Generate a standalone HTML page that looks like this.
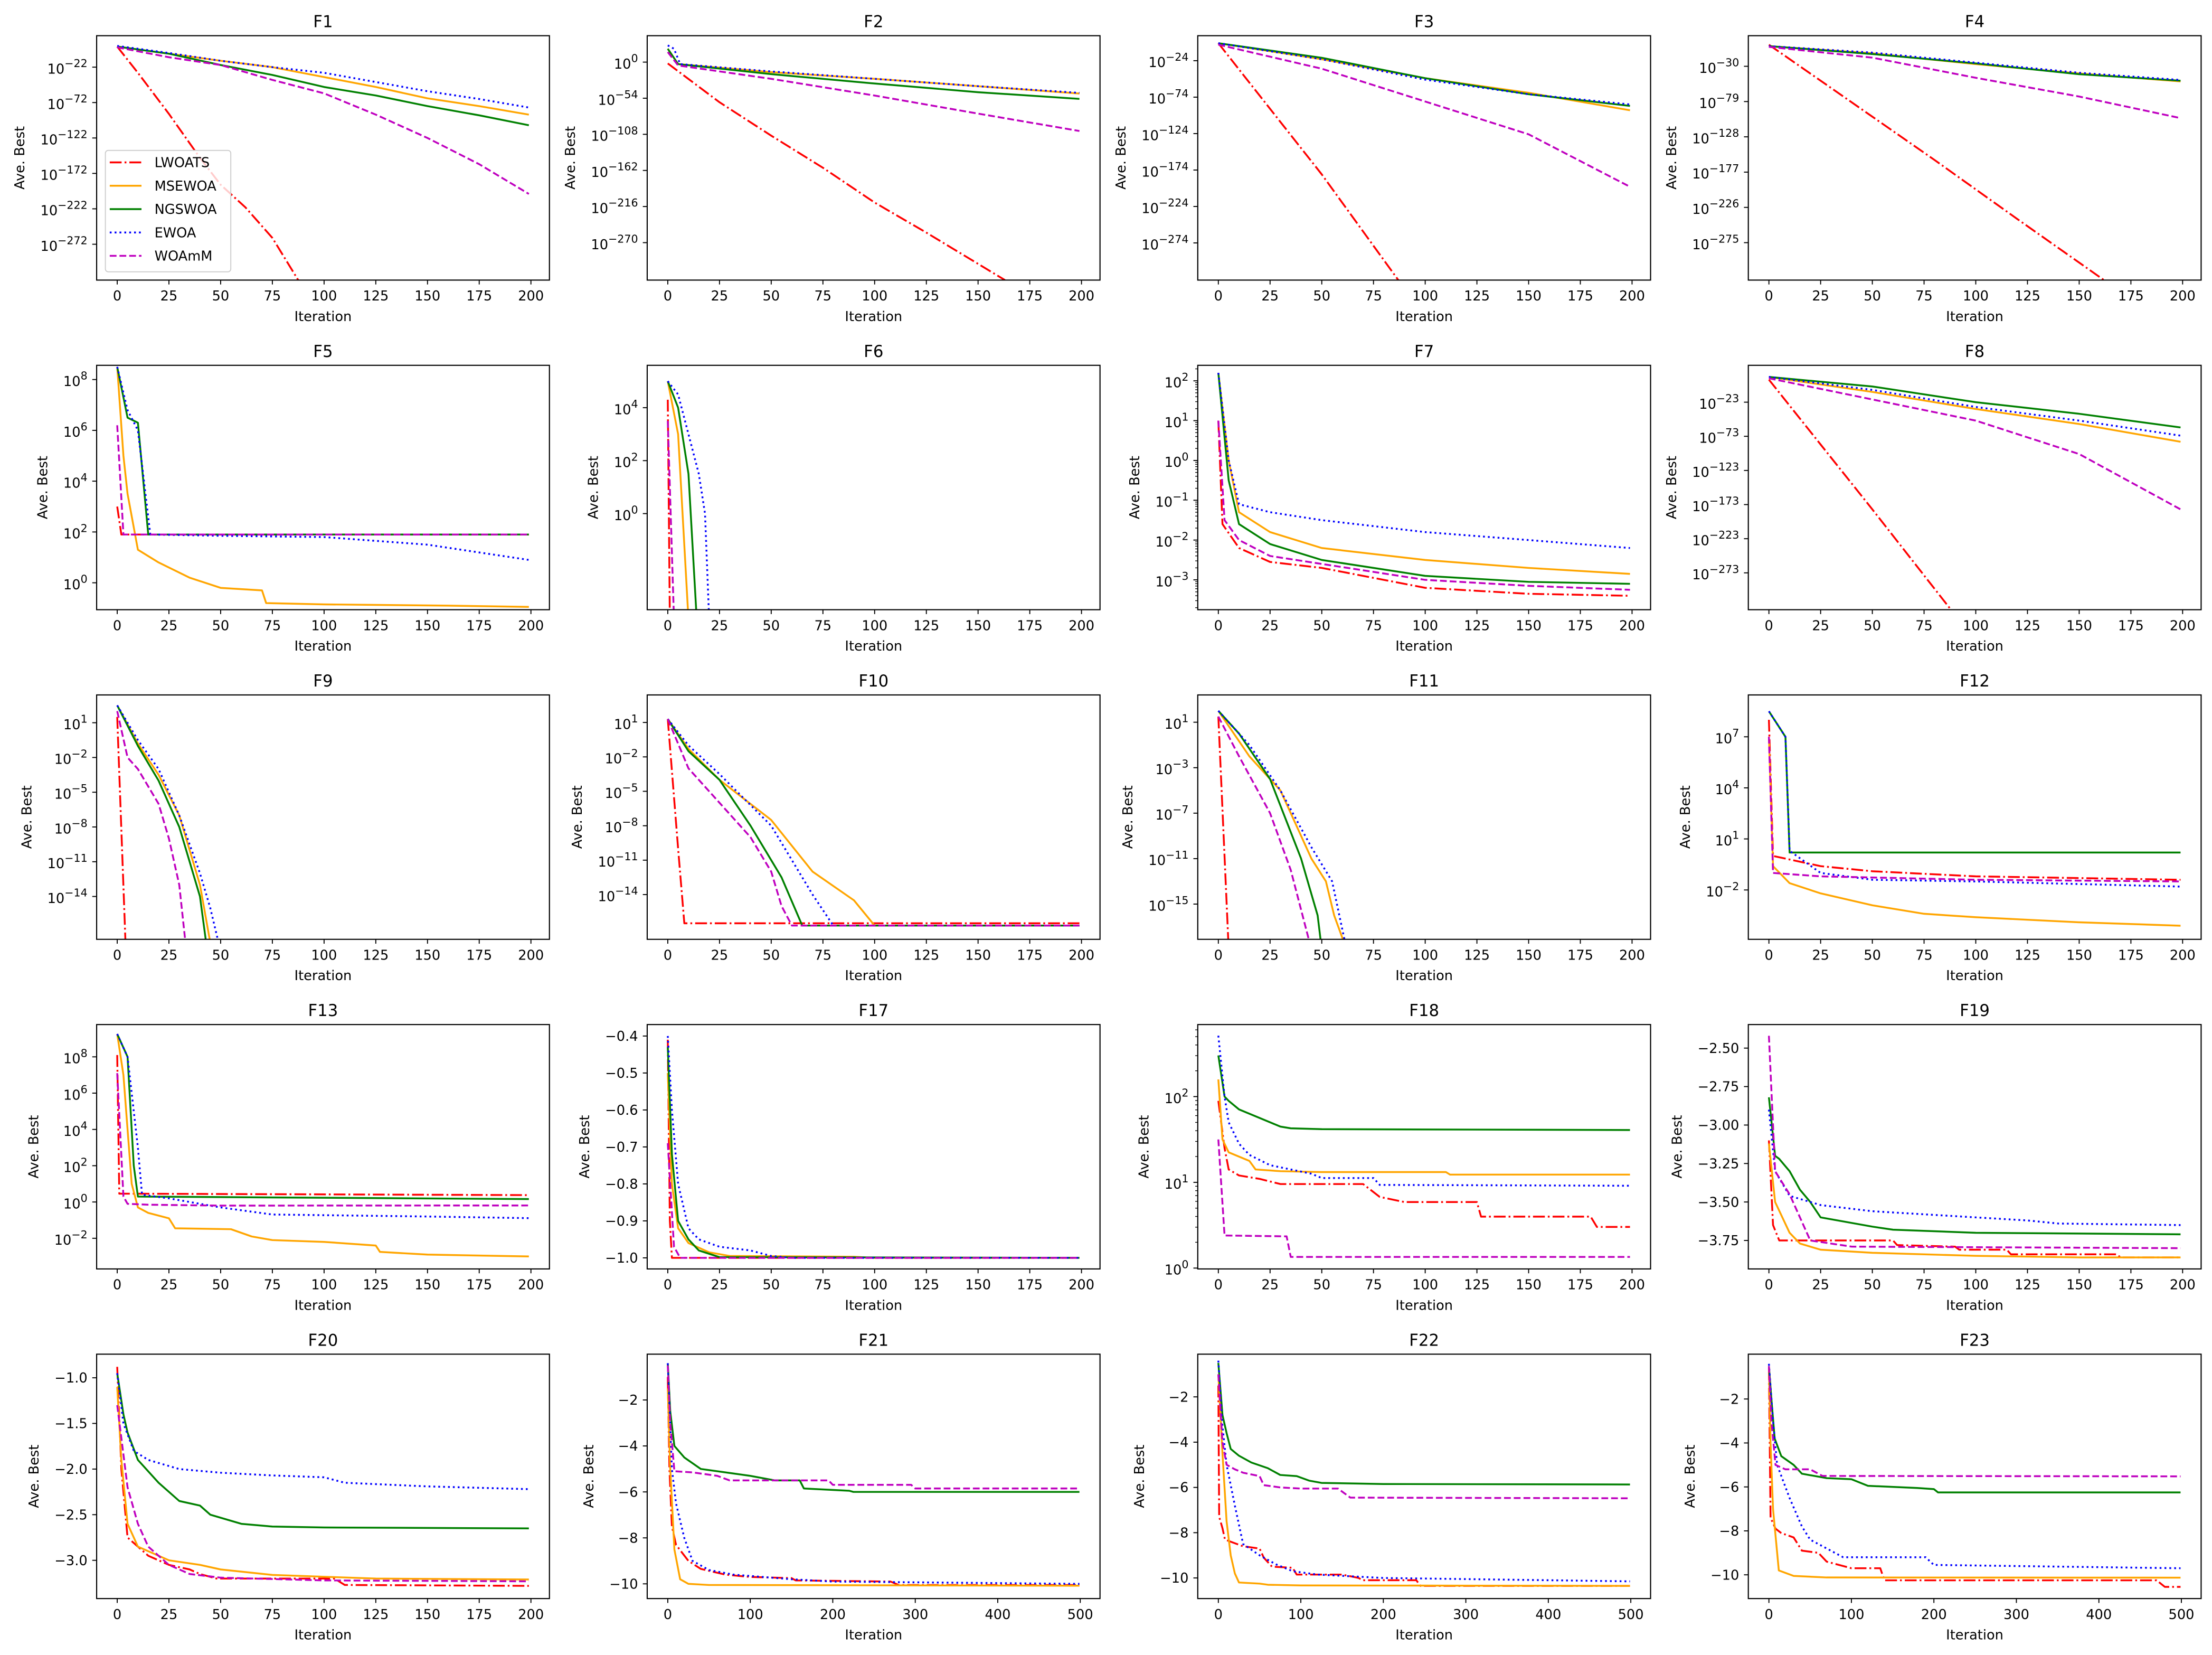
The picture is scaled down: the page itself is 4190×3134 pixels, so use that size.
<!DOCTYPE html>
<html><head><meta charset="utf-8"><title>Convergence curves</title>
<style>html,body{margin:0;padding:0;background:#fff}svg{display:block}</style></head>
<body>
<svg id="fig" xmlns="http://www.w3.org/2000/svg" width="4190" height="3134" viewBox="0 0 1568.1 1172.9" font-family="'DejaVu Sans','Liberation Sans',sans-serif">
<rect x="0" y="0" width="1568.1" height="1172.9" fill="#fff"/>
</svg>
<script>
// ---- data: [iteration, value] (log plots store log10 of Ave. Best) ----
const METHODS = ['LWOATS','MSEWOA','NGSWOA','EWOA','WOAmM'];
const F1_LWOATS=[[0,7],[10,-30],[25,-88],[40,-150],[50,-188],[62,-220],[75,-263],[88,-325]];
const F1_MSEWOA=[[0,7],[25,-3],[50,-13],[75,-22],[100,-36],[125,-50],[150,-66],[175,-77],[199,-89]];
const F1_NGSWOA=[[0,7],[25,-3],[50,-19],[75,-33],[100,-50],[125,-62],[150,-77],[175,-90],[199,-104]];
const F1_EWOA=[[0,8],[25,-2],[50,-13],[75,-22],[100,-30],[125,-43],[150,-56],[175,-67],[199,-79]];
const F1_WOAmM=[[0,6],[25,-8],[50,-19],[75,-40],[100,-59],[125,-89],[150,-122],[175,-159],[199,-201]];
const F2_LWOATS=[[0,-2],[25,-60],[50,-110],[75,-158],[100,-210],[125,-255],[163,-326]];
const F2_MSEWOA=[[0,20],[5,-3],[50,-15],[100,-25],[150,-36],[199,-47]];
const F2_NGSWOA=[[0,20],[5,-3],[50,-18],[100,-32],[150,-45],[199,-55]];
const F2_EWOA=[[0,25],[3,20],[6,-3],[50,-14],[100,-25],[150,-36],[199,-46]];
const F2_WOAmM=[[0,15],[5,-5],[50,-25],[100,-50],[150,-77],[199,-103]];
const F3_LWOATS=[[0,0],[25,-90],[50,-180],[87,-325]];
const F3_MSEWOA=[[0,0],[50,-22],[100,-48],[150,-68],[199,-92]];
const F3_NGSWOA=[[0,0],[50,-20],[100,-48],[150,-70],[199,-86]];
const F3_EWOA=[[0,0],[50,-22],[100,-50],[150,-70],[199,-84]];
const F3_WOAmM=[[0,-2],[50,-35],[100,-80],[150,-125],[199,-197]];
const F4_LWOATS=[[0,0],[40,-80],[80,-160],[120,-242],[162,-327]];
const F4_MSEWOA=[[0,-2],[50,-12],[100,-27],[150,-40],[199,-51]];
const F4_NGSWOA=[[0,-2],[50,-13],[100,-26],[150,-41],[199,-50]];
const F4_EWOA=[[0,-2],[50,-11],[100,-25],[150,-39],[199,-49]];
const F4_WOAmM=[[0,-3],[50,-18],[100,-46],[150,-72],[199,-102]];
const F5_LWOATS=[[0,3],[2,1.9],[199,1.9]];
const F5_MSEWOA=[[0,8.5],[3,5],[5,3.5],[10,1.3],[20,0.8],[35,0.2],[50,-0.2],[70,-0.3],[72,-0.8],[100,-0.85],[160,-0.9],[199,-0.95]];
const F5_NGSWOA=[[0,8.5],[5,6.5],[10,6.3],[15,1.9],[199,1.9]];
const F5_EWOA=[[0,8.5],[5,6.8],[10,6],[16,1.9],[50,1.85],[100,1.8],[150,1.5],[199,0.9]];
const F5_WOAmM=[[0,6.2],[3,1.9],[199,1.9]];
const F6_LWOATS=[[0,4.3],[1,-4]];
const F6_MSEWOA=[[0,5],[5,3],[10,-4]];
const F6_NGSWOA=[[0,5],[5,4],[10,1.5],[14,-4]];
const F6_EWOA=[[0,5],[5,4.5],[10,3],[15,1.5],[18,0],[20,-4]];
const F6_WOAmM=[[0,3.5],[3,-4]];
const F7_LWOATS=[[0,1],[2,-1.6],[10,-2.2],[25,-2.55],[50,-2.7],[100,-3.2],[150,-3.35],[199,-3.4]];
const F7_MSEWOA=[[0,2.2],[5,0],[10,-1.3],[25,-1.8],[50,-2.2],[100,-2.5],[150,-2.7],[199,-2.85]];
const F7_NGSWOA=[[0,2.2],[5,-0.5],[10,-1.6],[25,-2.1],[50,-2.5],[100,-2.9],[150,-3.05],[199,-3.1]];
const F7_EWOA=[[0,2.2],[5,0],[10,-1.1],[25,-1.3],[50,-1.5],[100,-1.8],[150,-2.0],[199,-2.2]];
const F7_WOAmM=[[0,1],[3,-1.5],[10,-2],[25,-2.4],[50,-2.6],[100,-3.0],[150,-3.15],[199,-3.25]];
const F8_LWOATS=[[0,10],[25,-85],[50,-180],[88,-327]];
const F8_MSEWOA=[[0,14],[50,-8],[100,-33],[150,-55],[199,-81]];
const F8_NGSWOA=[[0,14],[50,0],[100,-23],[150,-40],[199,-60]];
const F8_EWOA=[[0,14],[50,-5],[100,-30],[150,-50],[199,-72]];
const F8_WOAmM=[[0,12],[50,-19],[100,-50],[150,-99],[199,-180]];
const F9_LWOATS=[[0,1.5],[4,-18]];
const F9_MSEWOA=[[0,2.5],[10,-0.8],[20,-3.5],[30,-7],[35,-10],[40,-13],[45,-18]];
const F9_NGSWOA=[[0,2.5],[10,-1],[20,-4],[30,-8],[35,-11],[40,-14],[43,-18]];
const F9_EWOA=[[0,2.5],[10,-0.5],[20,-3],[30,-7],[40,-12],[45,-15],[49,-18]];
const F9_WOAmM=[[0,2],[5,-2],[10,-3],[20,-6],[25,-9],[30,-13],[33,-18]];
const F10_LWOATS=[[0,1.3],[5,-10],[8,-16.5],[199,-16.5]];
const F10_MSEWOA=[[0,1.3],[10,-1.3],[25,-4],[50,-7.5],[70,-12],[90,-14.5],[100,-16.7],[199,-16.7]];
const F10_NGSWOA=[[0,1.3],[10,-1.5],[25,-4],[40,-8],[50,-11],[55,-12.5],[65,-16.7],[199,-16.7]];
const F10_EWOA=[[0,1.3],[10,-1],[25,-3.5],[50,-8],[60,-11],[70,-14],[80,-16.7],[199,-16.7]];
const F10_WOAmM=[[0,1.3],[10,-3],[25,-6],[40,-9],[50,-12],[55,-15],[60,-16.7],[199,-16.7]];
const F11_LWOATS=[[0,1.5],[5,-19]];
const F11_MSEWOA=[[0,2],[15,-2],[30,-5],[45,-11],[52,-13],[56,-16],[62,-19]];
const F11_NGSWOA=[[0,2],[10,0],[25,-4],[40,-11],[48,-16],[50,-19]];
const F11_EWOA=[[0,2],[15,-1],[30,-5],[45,-10],[55,-13],[62,-19]];
const F11_WOAmM=[[0,1.5],[10,-2],[25,-7],[35,-12],[45,-19]];
const F12_LWOATS=[[0,8],[2,0],[25,-0.6],[50,-0.9],[100,-1.2],[199,-1.4]];
const F12_MSEWOA=[[0,7],[2,-0.6],[10,-1.6],[25,-2.2],[50,-2.9],[75,-3.4],[100,-3.6],[150,-3.9],[199,-4.1]];
const F12_NGSWOA=[[0,8.5],[8,7],[10,0.2],[199,0.2]];
const F12_EWOA=[[0,8.5],[8,7],[10,0.3],[25,-1],[50,-1.4],[100,-1.5],[199,-1.8]];
const F12_WOAmM=[[0,7],[2,-1],[25,-1.2],[100,-1.4],[199,-1.5]];
const F13_LWOATS=[[0,8.1],[1,0.46],[199,0.38]];
const F13_MSEWOA=[[0,9.26],[3,7],[7,1],[10,-0.3],[15,-0.6],[25,-0.9],[28,-1.45],[55,-1.5],[65,-1.9],[75,-2.1],[100,-2.2],[125,-2.4],[127,-2.75],[150,-2.9],[199,-3.0]];
const F13_NGSWOA=[[0,9.26],[5,8],[8,2],[10,0.3],[199,0.16]];
const F13_EWOA=[[0,9.26],[5,8],[10,3],[12,0.4],[25,0.2],[40,-0.1],[50,-0.3],[75,-0.69],[150,-0.8],[199,-0.89]];
const F13_WOAmM=[[0,7.1],[3,0.3],[5,-0.1],[15,-0.15],[50,-0.2],[199,-0.19]];
const F17_LWOATS=[[0,-0.41],[1,-0.9],[2,-1.0],[199,-1.0]];
const F17_MSEWOA=[[0,-0.5],[2,-0.8],[5,-0.92],[10,-0.96],[20,-0.985],[30,-0.995],[90,-0.997],[100,-1.0],[199,-1.0]];
const F17_NGSWOA=[[0,-0.43],[2,-0.72],[5,-0.9],[10,-0.95],[15,-0.98],[25,-0.998],[199,-1.0]];
const F17_EWOA=[[0,-0.40],[2,-0.6],[5,-0.8],[10,-0.92],[15,-0.95],[25,-0.97],[40,-0.98],[50,-0.995],[60,-1.0],[199,-1.0]];
const F17_WOAmM=[[0,-0.69],[3,-0.97],[6,-1.0],[199,-1.0]];
const F18_LWOATS=[[0,1.95],[3,1.4],[5,1.15],[10,1.08],[20,1.04],[30,0.98],[70,0.98],[78,0.83],[90,0.77],[125,0.77],[127,0.6],[180,0.6],[183,0.48],[199,0.48]];
const F18_MSEWOA=[[0,2.2],[2,1.5],[5,1.35],[15,1.25],[18,1.15],[30,1.13],[50,1.12],[110,1.12],[112,1.09],[199,1.09]];
const F18_NGSWOA=[[0,2.48],[3,2.0],[5,1.95],[10,1.85],[20,1.75],[25,1.7],[30,1.65],[35,1.63],[50,1.62],[199,1.61]];
const F18_EWOA=[[0,2.71],[3,2.0],[5,1.7],[10,1.45],[15,1.32],[25,1.2],[35,1.15],[45,1.1],[50,1.05],[75,1.05],[78,0.97],[199,0.96]];
const F18_WOAmM=[[0,1.5],[3,0.38],[33,0.37],[35,0.13],[199,0.13]];
const F19_LWOATS=[[0,-3.1],[2,-3.65],[5,-3.75],[60,-3.75],[62,-3.78],[90,-3.79],[92,-3.81],[115,-3.81],[117,-3.84],[168,-3.84],[170,-3.86],[199,-3.86]];
const F19_MSEWOA=[[0,-3.12],[3,-3.5],[10,-3.7],[15,-3.77],[25,-3.81],[50,-3.83],[100,-3.85],[150,-3.86],[199,-3.86]];
const F19_NGSWOA=[[0,-2.82],[3,-3.2],[5,-3.22],[10,-3.3],[15,-3.42],[20,-3.5],[25,-3.6],[50,-3.66],[60,-3.68],[100,-3.7],[199,-3.71]];
const F19_EWOA=[[0,-2.9],[3,-3.3],[10,-3.46],[25,-3.52],[50,-3.56],[75,-3.58],[100,-3.6],[125,-3.62],[140,-3.64],[199,-3.65]];
const F19_WOAmM=[[0,-2.42],[3,-3.3],[10,-3.45],[15,-3.6],[20,-3.75],[40,-3.79],[199,-3.8]];
const F20_LWOATS=[[0,-0.88],[2,-2.0],[5,-2.75],[10,-2.85],[15,-2.95],[25,-3.05],[35,-3.1],[40,-3.15],[48,-3.2],[105,-3.2],[110,-3.27],[199,-3.28]];
const F20_MSEWOA=[[0,-1.1],[2,-1.9],[5,-2.6],[10,-2.85],[20,-2.95],[25,-3.0],[40,-3.05],[50,-3.1],[75,-3.16],[100,-3.18],[125,-3.2],[199,-3.21]];
const F20_NGSWOA=[[0,-0.95],[3,-1.4],[5,-1.6],[10,-1.9],[20,-2.15],[30,-2.35],[40,-2.4],[45,-2.5],[60,-2.6],[75,-2.63],[100,-2.64],[199,-2.65]];
const F20_EWOA=[[0,-0.95],[3,-1.5],[8,-1.8],[15,-1.9],[30,-2.0],[50,-2.04],[75,-2.07],[100,-2.09],[110,-2.15],[150,-2.19],[199,-2.22]];
const F20_WOAmM=[[0,-1.3],[5,-2.2],[10,-2.6],[15,-2.85],[25,-3.05],[35,-3.15],[50,-3.19],[100,-3.22],[199,-3.23]];
const F21_LWOATS=[[0,-1],[2,-5],[5,-7.5],[10,-8.3],[25,-9.0],[40,-9.35],[70,-9.6],[100,-9.7],[150,-9.75],[155,-9.85],[270,-9.9],[280,-10.05],[499,-10.05]];
const F21_MSEWOA=[[0,-1.5],[3,-5],[8,-8.5],[15,-9.8],[25,-10.0],[50,-10.05],[499,-10.08]];
const F21_NGSWOA=[[0,-0.4],[3,-2.5],[8,-4.0],[20,-4.5],[40,-5.0],[80,-5.2],[100,-5.3],[130,-5.5],[160,-5.5],[165,-5.85],[220,-5.95],[225,-6.0],[499,-6.0]];
const F21_EWOA=[[0,-0.4],[5,-5],[10,-6.5],[20,-8],[30,-9.0],[50,-9.4],[80,-9.6],[150,-9.8],[200,-9.9],[499,-10.0]];
const F21_WOAmM=[[0,-0.5],[3,-3],[8,-5.1],[30,-5.15],[60,-5.3],[75,-5.5],[195,-5.5],[200,-5.69],[295,-5.69],[300,-5.85],[499,-5.85]];
const F22_LWOATS=[[0,-1.5],[1,-7.3],[5,-7.8],[8,-8.3],[15,-8.4],[30,-8.6],[50,-8.7],[55,-9.1],[65,-9.5],[90,-9.55],[95,-9.85],[150,-9.85],[170,-10.0],[175,-10.1],[240,-10.1],[245,-10.35],[499,-10.35]];
const F22_MSEWOA=[[0,-1],[5,-4.5],[10,-7.5],[15,-9.0],[20,-9.8],[25,-10.2],[50,-10.25],[60,-10.3],[100,-10.33],[499,-10.35]];
const F22_NGSWOA=[[0,-0.5],[5,-2.8],[10,-3.6],[15,-4.3],[25,-4.6],[40,-4.9],[60,-5.15],[75,-5.45],[95,-5.5],[110,-5.7],[125,-5.8],[200,-5.85],[499,-5.87]];
const F22_EWOA=[[0,-0.4],[5,-3.3],[10,-5.0],[20,-6.8],[30,-8.5],[50,-9.0],[70,-9.4],[90,-9.7],[120,-9.85],[200,-10.0],[300,-10.05],[499,-10.15]];
const F22_WOAmM=[[0,-1.0],[5,-4.0],[10,-5.0],[20,-5.2],[30,-5.35],[50,-5.5],[55,-5.9],[75,-6.0],[100,-6.05],[145,-6.05],[160,-6.45],[499,-6.48]];
const F23_LWOATS=[[0,-0.6],[2,-7.4],[8,-7.9],[15,-8.1],[30,-8.3],[40,-8.9],[60,-9.0],[70,-9.4],[100,-9.7],[135,-9.7],[140,-10.25],[470,-10.25],[480,-10.55],[499,-10.55]];
const F23_MSEWOA=[[0,-0.5],[2,-4],[5,-7],[12,-9.8],[30,-10.05],[70,-10.12],[499,-10.13]];
const F23_NGSWOA=[[0,-0.5],[3,-2],[7,-3.8],[15,-4.6],[30,-5.0],[40,-5.4],[70,-5.6],[100,-5.65],[120,-5.95],[180,-6.05],[200,-6.1],[205,-6.25],[499,-6.25]];
const F23_EWOA=[[0,-0.4],[5,-3],[10,-5],[25,-6.5],[40,-7.8],[50,-8.4],[70,-8.8],[90,-9.2],[190,-9.2],[200,-9.55],[499,-9.7]];
const F23_WOAmM=[[0,-0.5],[3,-3],[8,-5.0],[20,-5.2],[50,-5.2],[65,-5.5],[499,-5.52]];

// ---- axis tick values ----
const F1_YTICKS=[-22,-72,-122,-172,-222,-272];
const F2_YTICKS=[0,-54,-108,-162,-216,-270];
const F3_YTICKS=[-24,-74,-124,-174,-224,-274];
const F4_YTICKS=[-30,-79,-128,-177,-226,-275];
const F5_YTICKS=[0,2,4,6,8];
const F6_YTICKS=[0,2,4];
const F7_YTICKS=[-3,-2,-1,0,1,2];
const F8_YTICKS=[-23,-73,-123,-173,-223,-273];
const F9_YTICKS=[1,-2,-5,-8,-11,-14];
const F10_YTICKS=[1,-2,-5,-8,-11,-14];
const F11_YTICKS=[1,-3,-7,-11,-15];
const F12_YTICKS=[7,4,1,-2];
const F13_YTICKS=[8,6,4,2,0,-2];
const F17_YTICKS=[-0.4,-0.5,-0.6,-0.7,-0.8,-0.9,-1.0];
const F18_YTICKS=[0,1,2];
const F19_YTICKS=[-2.5,-2.75,-3.0,-3.25,-3.5,-3.75];
const F20_YTICKS=[-1.0,-1.5,-2.0,-2.5,-3.0];
const F21_YTICKS=[-2,-4,-6,-8,-10];
const F22_YTICKS=[-2,-4,-6,-8,-10];
const F23_YTICKS=[-2,-4,-6,-8,-10];
const XTICKS_200=[0,25,50,75,100,125,150,175,200];
const XTICKS_500=[0,100,200,300,400,500];

const PLOTS=[
 {t:'F1',log:true,ylim:[-322.6,22.4],yt:F1_YTICKS,n:200,s:[F1_LWOATS,F1_MSEWOA,F1_NGSWOA,F1_EWOA,F1_WOAmM]},
 {t:'F2',log:true,ylim:[-326,39.5],yt:F2_YTICKS,n:200,s:[F2_LWOATS,F2_MSEWOA,F2_NGSWOA,F2_EWOA,F2_WOAmM]},
 {t:'F3',log:true,ylim:[-325,10.3],yt:F3_YTICKS,n:200,s:[F3_LWOATS,F3_MSEWOA,F3_NGSWOA,F3_EWOA,F3_WOAmM]},
 {t:'F4',log:true,ylim:[-327,12.5],yt:F4_YTICKS,n:200,s:[F4_LWOATS,F4_MSEWOA,F4_NGSWOA,F4_EWOA,F4_WOAmM]},
 {t:'F5',log:true,ylim:[-1.06,8.56],yt:F5_YTICKS,n:200,s:[F5_LWOATS,F5_MSEWOA,F5_NGSWOA,F5_EWOA,F5_WOAmM]},
 {t:'F6',log:true,ylim:[-3.63,5.6],yt:F6_YTICKS,n:200,s:[F6_LWOATS,F6_MSEWOA,F6_NGSWOA,F6_EWOA,F6_WOAmM]},
 {t:'F7',log:true,minor:true,ylim:[-3.75,2.39],yt:F7_YTICKS,n:200,s:[F7_LWOATS,F7_MSEWOA,F7_NGSWOA,F7_EWOA,F7_WOAmM]},
 {t:'F8',log:true,ylim:[-327,31],yt:F8_YTICKS,n:200,s:[F8_LWOATS,F8_MSEWOA,F8_NGSWOA,F8_EWOA,F8_WOAmM]},
 {t:'F9',log:true,ylim:[-17.7,3.4],yt:F9_YTICKS,n:200,s:[F9_LWOATS,F9_MSEWOA,F9_NGSWOA,F9_EWOA,F9_WOAmM]},
 {t:'F10',log:true,ylim:[-17.9,3.4],yt:F10_YTICKS,n:200,s:[F10_LWOATS,F10_MSEWOA,F10_NGSWOA,F10_EWOA,F10_WOAmM]},
 {t:'F11',log:true,ylim:[-18.1,3.4],yt:F11_YTICKS,n:200,s:[F11_LWOATS,F11_MSEWOA,F11_NGSWOA,F11_EWOA,F11_WOAmM]},
 {t:'F12',log:true,ylim:[-4.9,9.46],yt:F12_YTICKS,n:200,s:[F12_LWOATS,F12_MSEWOA,F12_NGSWOA,F12_EWOA,F12_WOAmM]},
 {t:'F13',log:true,ylim:[-3.69,9.78],yt:F13_YTICKS,n:200,s:[F13_LWOATS,F13_MSEWOA,F13_NGSWOA,F13_EWOA,F13_WOAmM]},
 {t:'F17',log:false,dec:1,ylim:[-1.030,-0.369],yt:F17_YTICKS,n:200,s:[F17_LWOATS,F17_MSEWOA,F17_NGSWOA,F17_EWOA,F17_WOAmM]},
 {t:'F18',log:true,minor:true,ylim:[-0.01,2.84],yt:F18_YTICKS,n:200,s:[F18_LWOATS,F18_MSEWOA,F18_NGSWOA,F18_EWOA,F18_WOAmM]},
 {t:'F19',log:false,dec:2,ylim:[-3.935,-2.347],yt:F19_YTICKS,n:200,s:[F19_LWOATS,F19_MSEWOA,F19_NGSWOA,F19_EWOA,F19_WOAmM]},
 {t:'F20',log:false,dec:1,ylim:[-3.419,-0.741],yt:F20_YTICKS,n:200,s:[F20_LWOATS,F20_MSEWOA,F20_NGSWOA,F20_EWOA,F20_WOAmM]},
 {t:'F21',log:false,dec:0,ylim:[-10.64,-0.006],yt:F21_YTICKS,n:500,s:[F21_LWOATS,F21_MSEWOA,F21_NGSWOA,F21_EWOA,F21_WOAmM]},
 {t:'F22',log:false,dec:0,ylim:[-10.91,-0.113],yt:F22_YTICKS,n:500,s:[F22_LWOATS,F22_MSEWOA,F22_NGSWOA,F22_EWOA,F22_WOAmM]},
 {t:'F23',log:false,dec:0,ylim:[-11.08,0.04],yt:F23_YTICKS,n:500,s:[F23_LWOATS,F23_MSEWOA,F23_NGSWOA,F23_EWOA,F23_WOAmM]}
];

const STYLE={
 LWOATS:{c:'#ff0000',d:'8.4,2.1,1.3,2.1'},
 MSEWOA:{c:'#ffa500',d:''},
 NGSWOA:{c:'#008000',d:''},
 EWOA:{c:'#0000ff',d:'1.3,2.15'},
 WOAmM:{c:'#bf00bf',d:'4.8,2.1'}
};
const NS='http://www.w3.org/2000/svg';
const svg=document.getElementById('fig');
function E(tag,attrs,parent){const e=document.createElementNS(NS,tag);for(const k in attrs)e.setAttribute(k,attrs[k]);(parent||svg).appendChild(e);return e;}
const MINUS='\u2212';
function fmt(v,dec){let s=Math.abs(v).toFixed(dec);return (v<0?MINUS:'')+s;}

PLOTS.forEach((p,idx)=>{
 const row=Math.floor(idx/4),col=idx%4;
 const L=68.5+390.3*col,W=321,T=25.3+233.6*row,H=173.2;
 const xmax=p.n-1,xm=0.05*xmax,x0=-xm,x1=xmax+xm;
 const X=v=>L+(v-x0)/(x1-x0)*W;
 const Y=v=>T+(p.ylim[1]-v)/(p.ylim[1]-p.ylim[0])*H;
 const g=E('g',{});
 
 
 const cid='clip'+idx;
 const cp=E('clipPath',{id:cid},g);E('rect',{x:L,y:T,width:W,height:H},cp);
 const tt=E('text',{x:L+W/2,y:T-6,'text-anchor':'middle','font-size':11.5,fill:'#000'},g);
 tt.textContent=p.t;
 
 
 const xt=p.n===500?XTICKS_500:XTICKS_200;
 xt.forEach(v=>{
  const x=X(v);
  E('line',{x1:x,y1:T+H,x2:x,y2:T+H+3.1,stroke:'#000','stroke-width':0.7},g);
  const tx=E('text',{x:x,y:T+H+14.5,'text-anchor':'middle','font-size':9.6,fill:'#000'},g);
  tx.textContent=String(v);
  
  
 });
 const xl=E('text',{x:L+W/2,y:T+H+29,'text-anchor':'middle','font-size':9.6,fill:'#000'},g);
 xl.textContent='Iteration';
 
 
 let maxW=0;
 p.yt.forEach(v=>{
  const y=Y(v);
  E('line',{x1:L,y1:y,x2:L-3.1,y2:y,stroke:'#000','stroke-width':0.7},g);
  const ty=E('text',{x:L-6.5,'text-anchor':'end','font-size':9.6,fill:'#000'},g);
  
  
  if(p.log){
   ty.setAttribute('y',y+4.6);
   const es=(v<0?MINUS:'')+Math.abs(v);
   ty.appendChild(document.createTextNode('10'));
   const sp=E('tspan',{dy:-4.6,'font-size':7.7},ty);
   sp.textContent=es;
   const w=12.2+7.7*(0.636*Math.abs(v).toString().length+(v<0?0.838:0));
   maxW=Math.max(maxW,w);
  } else {
   ty.setAttribute('y',y+3.4);
   const s=fmt(v,p.dec);ty.textContent=s;
   const w=9.6*(0.636*s.replace(MINUS,'').replace('.','').length+(s.includes('.')?0.318:0)+(v<0?0.838:0));
   maxW=Math.max(maxW,w);
  }
 });
 if(p.minor){
  const lo=Math.floor(p.ylim[0]),hi=Math.ceil(p.ylim[1]);
  for(let d=lo;d<=hi;d++)for(let m=2;m<=9;m++){
   const v=d+Math.log10(m);
   if(v<p.ylim[0]||v>p.ylim[1])continue;
   const y=Y(v);
   E('line',{x1:L,y1:y,x2:L-1.8,y2:y,stroke:'#000','stroke-width':0.5},g);
  }
 }
 const yx=L-7-maxW-13.5,yy=T+H/2;
 const yl=E('text',{x:yx,y:yy,'text-anchor':'middle','font-size':9.6,fill:'#000',transform:`rotate(-90 ${yx} ${yy})`,'dominant-baseline':'middle'},g);
 yl.textContent='Ave. Best';
 
 
 const sg=E('g',{'clip-path':`url(#${cid})`},g);
 p.s.forEach((pts,si)=>{
  const m=METHODS[si],st=STYLE[m];
  const d=pts.map((q,i)=>(i?'L':'M')+X(q[0]).toFixed(2)+' '+Y(q[1]).toFixed(2)).join(' ');
  const path=E('path',{d:d,fill:'none',stroke:st.c,'stroke-width':1.3,'stroke-linejoin':'round'},sg);
  if(st.d)path.setAttribute('stroke-dasharray',st.d);
  
  
 });
 const fr=E('rect',{x:L,y:T,width:W,height:H,fill:'none',stroke:'#000','stroke-width':0.8},g);
 
 
 if(idx===0){
  const lg=E('g',{},g);
  
  
  E('rect',{x:74.7,y:106.6,width:88.9,height:86,rx:2,fill:'#fff','fill-opacity':0.8,stroke:'#ccc','stroke-width':0.7},lg);
  METHODS.forEach((m,i)=>{
   const y=115.1+16.55*i,st=STYLE[m];
   const ln=E('line',{x1:77.8,y1:y,x2:100.3,y2:y,stroke:st.c,'stroke-width':1.3},lg);
   if(st.d)ln.setAttribute('stroke-dasharray',st.d);
   const lt=E('text',{x:109.5,y:y+3.4,'font-size':9.6,fill:'#000'},lg);
   lt.textContent=m;
   
   
  });
 }
});
</script>
</body></html>
